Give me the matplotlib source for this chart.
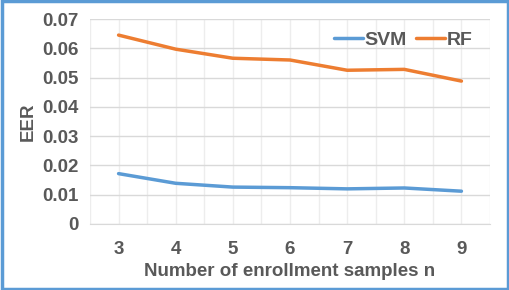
import matplotlib
matplotlib.use("Agg")
import matplotlib.pyplot as plt
from matplotlib.patches import Rectangle

n_samples = [3, 4, 5, 6, 7, 8, 9]
svm_eer = [0.0172, 0.0139, 0.0126, 0.0124, 0.0120, 0.0123, 0.0112]
rf_eer = [0.0645, 0.0597, 0.0566, 0.0560, 0.0525, 0.0528, 0.0488]
y_ticks = [0, 0.01, 0.02, 0.03, 0.04, 0.05, 0.06, 0.07]
y_labels = ["0", "0.01", "0.02", "0.03", "0.04", "0.05", "0.06", "0.07"]

plt.rcParams['font.family'] = ['Liberation Sans', 'DejaVu Sans']
txt = "#595959"
fs = 13.5

fig = plt.figure(figsize=(5.1, 2.9), dpi=100)
ax = fig.add_axes([90/510, 1-224/290, 400/510, 205/290])

ax.plot(n_samples, svm_eer, color="#5B9BD5", lw=2.5, label="SVM", solid_capstyle="round")
ax.plot(n_samples, rf_eer, color="#ED7D31", lw=2.5, label="RF", solid_capstyle="round")

ax.set_xlim(2.5, 9.5)
ax.set_ylim(0, 0.07)
ax.set_yticks(y_ticks)
ax.set_yticklabels(y_labels)
ax.set_xticks(n_samples)
ax.set_xticks([x + 0.5 for x in [2] + n_samples], minor=True)
ax.grid(True, which="major", axis="y", color="#D9D9D9", lw=1)
ax.grid(True, which="both", axis="x", color="#EDEDED", lw=1)
ax.set_axisbelow(True)
for s in ["top", "right", "left"]:
    ax.spines[s].set_visible(False)
ax.spines["bottom"].set_color("#D9D9D9")
ax.tick_params(which="both", length=0)
ax.tick_params(axis="y", pad=8)
ax.tick_params(axis="x", pad=12)
for lab in ax.get_xticklabels() + ax.get_yticklabels():
    lab.set_fontsize(fs)
    lab.set_fontweight("bold")
    lab.set_color(txt)

ax.set_ylabel("EER", fontsize=fs, fontweight="bold", color=txt, labelpad=4)
ax.set_xlabel("Number of enrollment samples n", fontsize=fs, fontweight="bold", color=txt, labelpad=4)

leg = ax.legend(loc="upper right", bbox_to_anchor=(1.0, 1.025), ncol=2, frameon=False,
                prop={"size": 14, "weight": "bold"}, handlelength=1.45, handletextpad=0.1,
                columnspacing=0.5)
for t in leg.get_texts():
    t.set_color(txt)

fig.patches.append(Rectangle((0.003, 0.005), 0.994, 0.99, transform=fig.transFigure,
                             fill=False, edgecolor="#5B9BD5", lw=2.5))

fig.savefig("out.png", dpi=100, facecolor="white")
